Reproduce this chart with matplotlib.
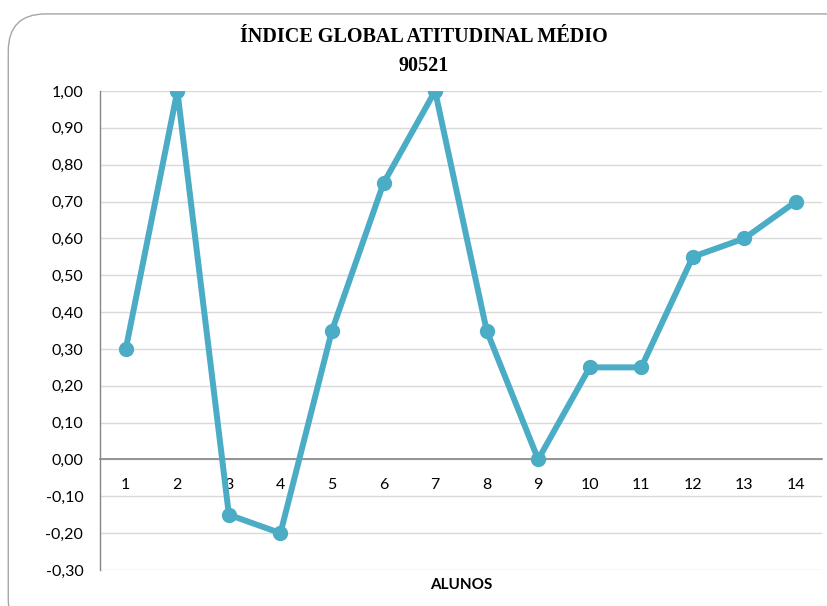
import matplotlib.pyplot as plt
from matplotlib.patches import FancyBboxPatch
from matplotlib.ticker import FuncFormatter, MultipleLocator

alunos = list(range(1, 15))
indice = [0.30, 1.00, -0.15, -0.20, 0.35, 0.75, 1.00, 0.35, 0.00, 0.25, 0.25, 0.55, 0.60, 0.70]
titulo = 'ÍNDICE GLOBAL ATITUDINAL MÉDIO\n90521'

fig = plt.figure(figsize=(8.28, 6.06), dpi=100)
ax = fig.add_axes([0.1208, 0.0594, 0.8716, 0.7904])

# moldura arredondada do gráfico
frame = FancyBboxPatch((0.010, -0.05), 1.1, 1.027, transform=fig.transFigure,
                       boxstyle='round,pad=0,rounding_size=0.045',
                       facecolor='none', edgecolor='#A6A6A6', linewidth=1.0,
                       mutation_aspect=828 / 606)
fig.patches.append(frame)

ax.plot(alunos, indice, color='#4BACC6', linewidth=4.3, marker='o',
        markersize=10, solid_joinstyle='round', zorder=3)

ax.set_xlim(0.5, 14.5)
ax.set_ylim(-0.30, 1.00)
ax.yaxis.set_major_locator(MultipleLocator(0.10))
ax.yaxis.set_major_formatter(FuncFormatter(lambda v, p: f'{v:.2f}'.replace('.', ',').replace('-0,00', '0,00')))
ax.set_xticks(alunos)
ax.set_xticklabels([str(a) for a in alunos])

ax.grid(axis='y', color='#D9D9D9', linewidth=1.0, zorder=0)
ax.set_axisbelow(True)
for side in ['top', 'right']:
    ax.spines[side].set_visible(False)
ax.spines['bottom'].set_position(('data', 0))
ax.spines['bottom'].set_color('#868686')
ax.spines['bottom'].set_linewidth(1.2)
ax.spines['left'].set_color('#868686')
ax.spines['left'].set_linewidth(1.0)

ax.tick_params(axis='x', length=0, pad=13, labelsize=11.5, labelcolor='#000000')
ax.tick_params(axis='y', length=0, pad=12, labelsize=11.5)
for lbl in ax.get_xticklabels() + ax.get_yticklabels():
    lbl.set_fontfamily('Lato')

fig.text(0.512, 0.955, titulo, ha='center', va='top', fontsize=14.5,
         fontweight='bold', fontfamily='Liberation Serif', linespacing=1.55)
fig.text(0.557, 0.035, 'ALUNOS', ha='center', va='center', fontsize=11,
         fontweight='bold', fontfamily='Lato')

fig.savefig('out.png', dpi=100)
